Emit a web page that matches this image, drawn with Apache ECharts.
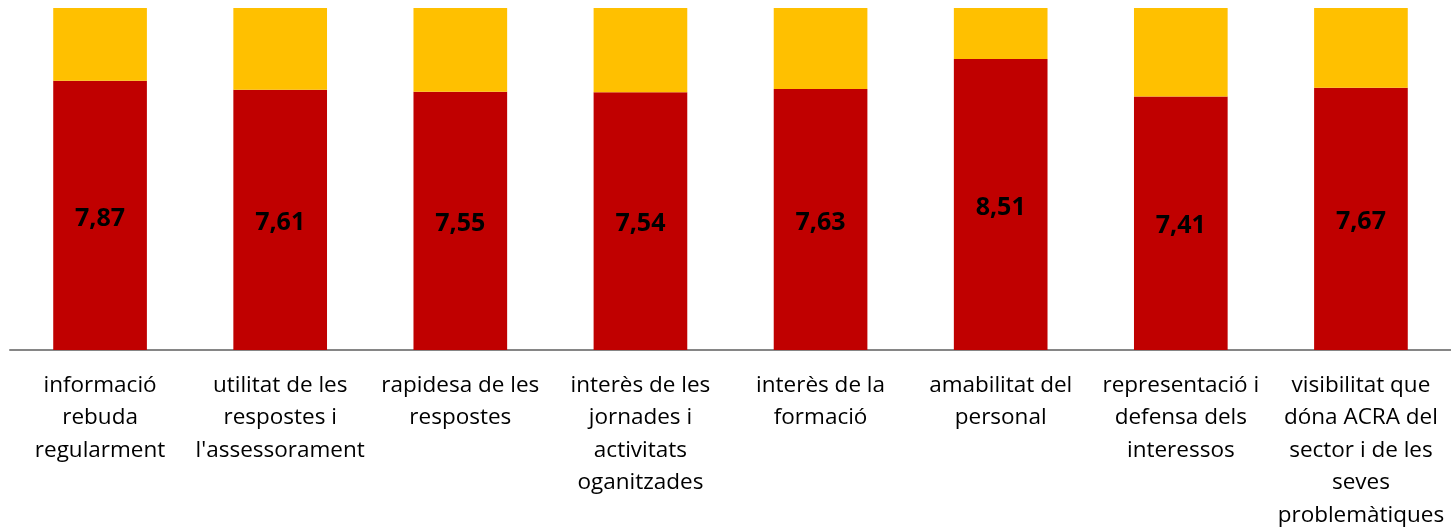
<!DOCTYPE html>
<html>
<head>
	<meta charset="utf-8">
	<title>Valoració</title>
	<style>
		html,body{margin:0;padding:0;background:#fff}
		#main{width:1451px;height:528px}
	</style>
</head>
<body>
<div id="main"></div>
<script src="https://cdn.jsdelivr.net/npm/echarts@6/dist/echarts.min.js"></script>
<script>
	// categories and scores (out of 10)
	var categories = [
		'informació\nrebuda\nregularment',
		'utilitat de les\nrespostes i\nl\'assessorament',
		'rapidesa de les\nrespostes',
		'interès de les\njornades i\nactivitats\noganitzades',
		'interès de la\nformació',
		'amabilitat del\npersonal',
		'representació i\ndefensa dels\ninteressos',
		'visibilitat que\ndóna ACRA del\nsector i de les\nseves\nproblemàtiques'
	];
	var scores = [7.87, 7.61, 7.55, 7.54, 7.63, 8.51, 7.41, 7.67];
	var maxScore = 10;
	var rest = scores.map(function (v) { return +(maxScore - v).toFixed(2); });

	var myChart = echarts.init(document.getElementById('main'));
	var option = {
		animation: false,
		grid: {left: 10, right: 0, top: 8, bottom: 178, containLabel: false, outerBoundsMode: 'none'},
		xAxis: {
			type: 'category',
			data: categories,
			axisLine: {lineStyle: {color: '#868686', width: 2}},
			axisTick: {show: false},
			axisLabel: {
				interval: 0,
				margin: 19,
				fontFamily: 'Open Sans',
				fontSize: 22.5,
				lineHeight: 32.5,
				color: '#000'
			}
		},
		yAxis: {
			type: 'value',
			min: 0,
			max: maxScore,
			show: false
		},
		series: [
			{
				type: 'bar',
				stack: 'total',
				data: scores,
				barWidth: '52%',
				itemStyle: {color: '#C00000'},
				label: {
					show: true,
					position: 'inside',
					offset: [0, 3],
					fontFamily: 'Open Sans',
					fontWeight: 'bold',
					fontSize: 25,
					color: '#000',
					formatter: function (p) { return p.value.toFixed(2).replace('.', ','); }
				}
			},
			{
				type: 'bar',
				stack: 'total',
				data: rest,
				itemStyle: {color: '#FFC000'}
			}
		]
	};
	myChart.setOption(option);
</script>
</body>
</html>
